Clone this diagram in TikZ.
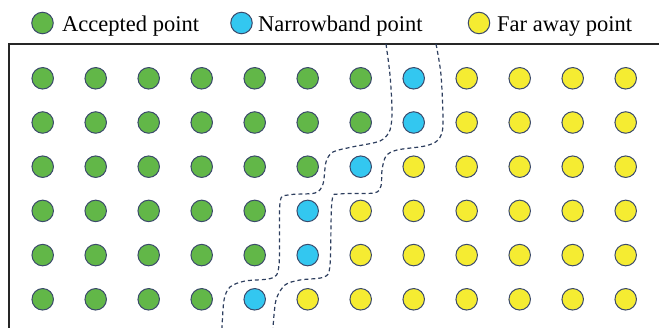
\documentclass[tikz,border=0pt]{standalone}
\usepackage{fontspec}
\setmainfont{Liberation Serif}
\definecolor{accG}{HTML}{62B748}
\definecolor{nbB}{HTML}{33C7F0}
\definecolor{farY}{HTML}{F5EC32}
\definecolor{edgeC}{HTML}{3B4A6B}
\definecolor{dashC}{HTML}{2D3E5E}
\tikzset{
  pt/.style={circle, draw=edgeC, line width=1pt, minimum size=21.5pt, inner sep=0pt},
  ptA/.style={pt, fill=accG},
  ptN/.style={pt, fill=nbB},
  ptF/.style={pt, fill=farY},
  legtext/.style={anchor=base west, inner sep=0pt, font=\fontsize{22.5}{26}\selectfont},
  frameline/.style={line width=2.2pt, draw=black!85},
  boundary/.style={dashC, line width=1.2pt, dash pattern=on 4pt off 3pt},
}
\begin{document}
\begin{tikzpicture}[x=1pt,y=-1pt]
\useasboundingbox (0,0) rectangle (659,328);
% legend
\node[ptA] (lA) at (42.5,23) {};
\node[legtext] (tA) at (62,31.5) {Accepted point};
\node[ptN] (lN) at (241.5,23) {};
\node[legtext] (tN) at (258,31.5) {Narrowband point};
\node[ptF] (lF) at (479,23) {};
\node[legtext] (tF) at (497,31.5) {Far away point};
% frame
\coordinate (fTL) at (9,44);
\coordinate (fTR) at (659,44);
\coordinate (fBL) at (9,330);
\draw[frameline] (fBL) -- (fTL) -- (fTR);
% grid of points
\foreach \r/\nb in {1/8,2/8,3/7,4/6,5/6,6/5}{
  \foreach \c in {1,...,12}{
    \pgfmathsetmacro{\xx}{42.7+53.0*(\c-1)}
    \pgfmathsetmacro{\yy}{78.3+44.2*(\r-1)}
    \ifnum\c<\nb
      \node[ptA] (p-\r-\c) at (\xx,\yy) {};
    \else\ifnum\c=\nb
      \node[ptN] (p-\r-\c) at (\xx,\yy) {};
    \else
      \node[ptF] (p-\r-\c) at (\xx,\yy) {};
    \fi\fi
  }
}
% dashed boundaries
\draw[boundary] plot[smooth, tension=0.5] coordinates {
  (386,44) (390,75) (392,110) (390,130) (380,141) (352,147) (333,152)
  (326,162) (323,184) (315,193) (288,195) (280,203) (279,265) (272,278)
  (245,281) (230,287) (224,300) (222,328)};
\draw[boundary] plot[smooth, tension=0.5] coordinates {
  (436,44) (441,75) (443,125) (438,140) (425,146) (397,150) (386,156)
  (382,170) (381,186) (374,193) (340,194) (332,201) (330,265) (324,277)
  (300,280) (285,285) (276,300) (273,328)};
\end{tikzpicture}
\end{document}
